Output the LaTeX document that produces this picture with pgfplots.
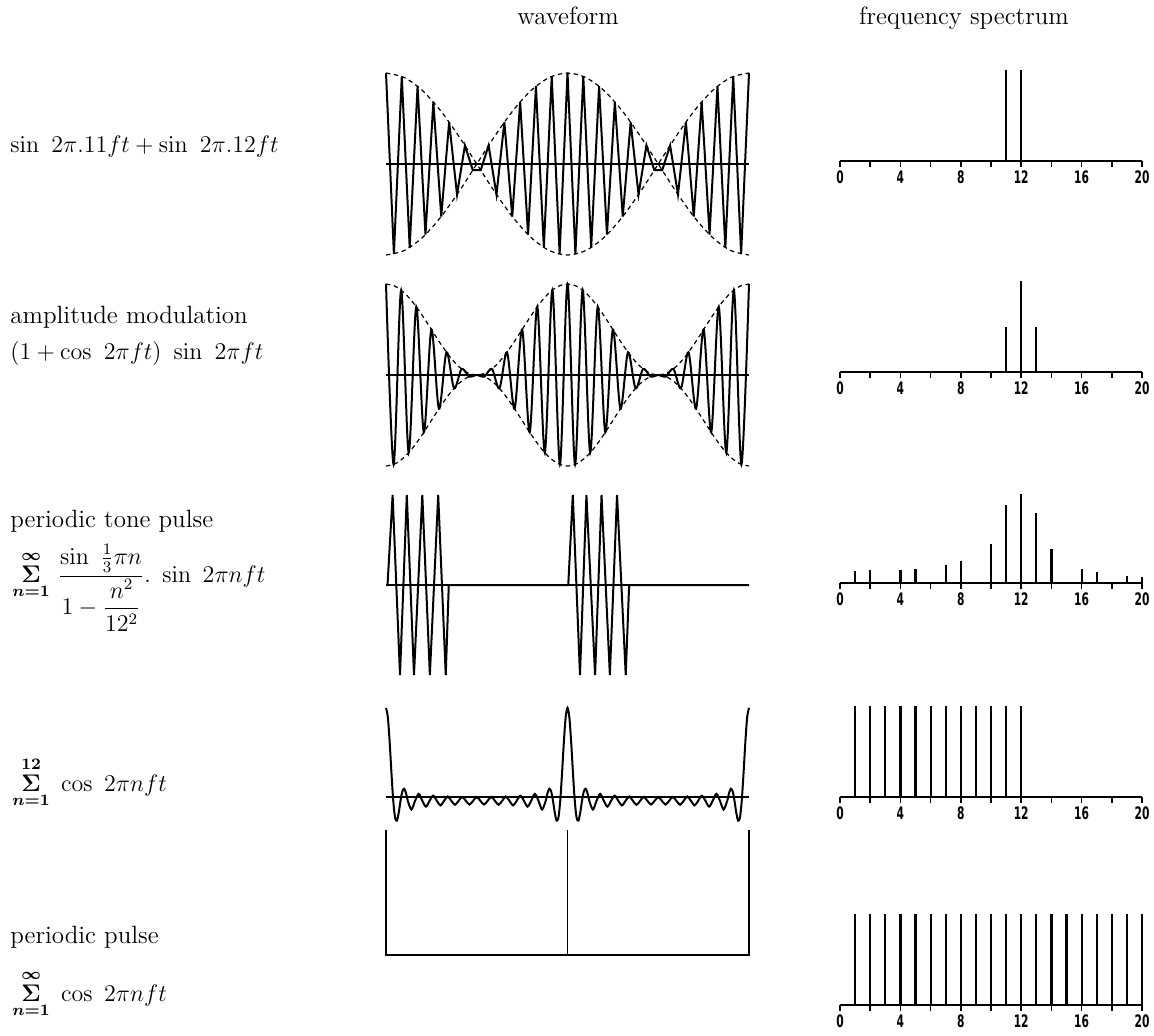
\documentclass[border=0pt]{standalone}
\usepackage{amsmath}
\usepackage[no-math]{fontspec}
\usepackage{pgfplots}
\pgfplotsset{compat=1.18}
\newfontfamily\tickfont[FakeStretch=0.62]{DejaVu Sans}
\pgfplotsset{
 wave/.style={scale only axis, width=181.5pt, hide axis, clip=false, anchor=south west},
 wl/.style={black, line width=1pt, no marks},
 env/.style={black, line width=0.6pt, no marks, smooth, dash pattern=on 2.2pt off 1.8pt},
 zl/.style={black, line width=1.3pt, no marks, sharp plot},
 spec/.style={scale only axis, width=151pt, height=45.5pt, xmin=0, xmax=20, ymin=0, ymax=1,
   axis x line*=bottom, axis y line=none, xtick={0,4,...,20}, minor xtick={2,6,...,18},
   tick align=outside, major tick length=2.8pt, minor tick length=2.8pt,
   every tick/.style={black, line width=0.8pt}, axis line style={line width=1pt},
   /pgf/number format/assume math mode=true,
   xticklabel style={font=\tickfont\bfseries\fontsize{8.6}{9}\selectfont, inner sep=1pt, yshift=-0.9pt},
   clip=false, anchor=south west},
 sl/.style={black, line width=1.1pt, ycomb, no marks},
}
\begin{document}
\begin{tikzpicture}[font=\fontsize{12.5}{15}\selectfont]
\useasboundingbox (0,0) rectangle (577pt,-517.5pt);
% titles
\node[anchor=base, inner sep=0] at (284pt,-12pt) {waveform};
\node[anchor=base, inner sep=0] at (482pt,-12pt) {frequency spectrum};
% row labels
\node[anchor=base west, inner sep=0] at (5pt,-76pt) {$\sin\ 2\pi.11ft+\sin\ 2\pi.12ft$};
\node[anchor=base west, inner sep=0] at (5pt,-161.5pt) {amplitude modulation};
\node[anchor=base west, inner sep=0] at (5pt,-179.5pt) {$(1+\cos\ 2\pi ft)\ \sin\ 2\pi ft$};
\node[anchor=base west, inner sep=0] at (5pt,-263.5pt) {periodic tone pulse};
\node[anchor=base west, inner sep=0, font=\fontsize{11.5}{14}\selectfont] at (6pt,-291pt) {$\mathop{\boldsymbol{\Sigma}}\limits_{\boldsymbol{n=1}}^{\boldsymbol{\infty}}\,\dfrac{\sin\ \frac{1}{3}\pi n}{1-\dfrac{n^2}{12^2}}.\ \sin\ 2\pi n ft$};
\node[anchor=base west, inner sep=0, font=\fontsize{11.5}{14}\selectfont] at (6pt,-395.5pt) {$\mathop{\boldsymbol{\Sigma}}\limits_{\boldsymbol{n=1}}^{\boldsymbol{12}}\ \cos\ 2\pi n ft$};
\node[anchor=base west, inner sep=0] at (5pt,-471.5pt) {periodic pulse};
\node[anchor=base west, inner sep=0, font=\fontsize{11.5}{14}\selectfont] at (6pt,-500.5pt) {$\mathop{\boldsymbol{\Sigma}}\limits_{\boldsymbol{n=1}}^{\boldsymbol{\infty}}\ \cos\ 2\pi n ft$};

% ---------- row 1 waveform ----------
\begin{axis}[wave, at={(193pt,-127.5pt)}, height=91pt, xmin=0, xmax=46, ymin=-1, ymax=1]
\addplot[zl] coordinates {(0,0)(46,0)};
\addplot[env] coordinates {(0,1)(2.3,0.9511)(4.6,0.8090)(6.9,0.5878)(9.2,0.3090)(11.5,0)(13.8,-0.3090)(16.1,-0.5878)(18.4,-0.8090)(20.7,-0.9511)(23,-1)(25.3,-0.9511)(27.6,-0.8090)(29.9,-0.5878)(32.2,-0.3090)(34.5,0)(36.8,0.3090)(39.1,0.5878)(41.4,0.8090)(43.7,0.9511)(46,1)};
\addplot[env] coordinates {(0,-1)(2.3,-0.9511)(4.6,-0.8090)(6.9,-0.5878)(9.2,-0.3090)(11.5,0)(13.8,0.3090)(16.1,0.5878)(18.4,0.8090)(20.7,0.9511)(23,1)(25.3,0.9511)(27.6,0.8090)(29.9,0.5878)(32.2,0.3090)(34.5,0)(36.8,-0.3090)(39.1,-0.5878)(41.4,-0.8090)(43.7,-0.9511)(46,-1)};
\addplot[wl, sharp plot] table {
0 1
1 -0.9907
2 0.9629
3 -0.9172
4 0.8544
5 -0.7757
6 0.6826
7 -0.5767
8 0.4601
9 -0.3349
10 0.2035
11 -0.0682
12 -0.0682
13 0.2035
14 -0.3349
15 0.4601
16 -0.5767
17 0.6826
18 -0.7757
19 0.8544
20 -0.9172
21 0.9629
22 -0.9907
23 1
24 -0.9907
25 0.9629
26 -0.9172
27 0.8544
28 -0.7757
29 0.6826
30 -0.5767
31 0.4601
32 -0.3349
33 0.2035
34 -0.0682
35 -0.0682
36 0.2035
37 -0.3349
38 0.4601
39 -0.5767
40 0.6826
41 -0.7757
42 0.8544
43 -0.9172
44 0.9629
45 -0.9907
46 1
};
\end{axis}

% ---------- row 2 waveform ----------
\begin{axis}[wave, at={(193pt,-233pt)}, height=91pt, xmin=0, xmax=48, ymin=-1, ymax=1]
\addplot[zl] coordinates {(0,0)(48,0)};
\addplot[env] coordinates {(0,1)(1.2,0.9755)(2.4,0.9045)(3.6,0.7939)(4.8,0.6545)(6,0.5)(7.2,0.3455)(8.4,0.2061)(9.6,0.0955)(10.8,0.0245)(12,0)(13.2,0.0245)(14.4,0.0955)(15.6,0.2061)(16.8,0.3455)(18,0.5)(19.2,0.6545)(20.4,0.7939)(21.6,0.9045)(22.8,0.9755)(24,1)(25.2,0.9755)(26.4,0.9045)(27.6,0.7939)(28.8,0.6545)(30,0.5)(31.2,0.3455)(32.4,0.2061)(33.6,0.0955)(34.8,0.0245)(36,0)(37.2,0.0245)(38.4,0.0955)(39.6,0.2061)(40.8,0.3455)(42,0.5)(43.2,0.6545)(44.4,0.7939)(45.6,0.9045)(46.8,0.9755)(48,1)};
\addplot[env] coordinates {(0,-1)(1.2,-0.9755)(2.4,-0.9045)(3.6,-0.7939)(4.8,-0.6545)(6,-0.5)(7.2,-0.3455)(8.4,-0.2061)(9.6,-0.0955)(10.8,-0.0245)(12,0)(13.2,-0.0245)(14.4,-0.0955)(15.6,-0.2061)(16.8,-0.3455)(18,-0.5)(19.2,-0.6545)(20.4,-0.7939)(21.6,-0.9045)(22.8,-0.9755)(24,-1)(25.2,-0.9755)(26.4,-0.9045)(27.6,-0.7939)(28.8,-0.6545)(30,-0.5)(31.2,-0.3455)(32.4,-0.2061)(33.6,-0.0955)(34.8,-0.0245)(36,0)(37.2,-0.0245)(38.4,-0.0955)(39.6,-0.2061)(40.8,-0.3455)(42,-0.5)(43.2,-0.6545)(44.4,-0.7939)(45.6,-0.9045)(46.8,-0.9755)(48,-1)};
\addplot[wl, smooth] table {
0 1
1 -0.9830
2 0.9330
3 -0.8536
4 0.75
5 -0.6294
6 0.5
7 -0.3706
8 0.25
9 -0.1464
10 0.0670
11 -0.0170
12 0
13 -0.0170
14 0.0670
15 -0.1464
16 0.25
17 -0.3706
18 0.5
19 -0.6294
20 0.75
21 -0.8536
22 0.9330
23 -0.9830
24 1
25 -0.9830
26 0.9330
27 -0.8536
28 0.75
29 -0.6294
30 0.5
31 -0.3706
32 0.25
33 -0.1464
34 0.0670
35 -0.0170
36 0
37 -0.0170
38 0.0670
39 -0.1464
40 0.25
41 -0.3706
42 0.5
43 -0.6294
44 0.75
45 -0.8536
46 0.9330
47 -0.9830
48 1
};
\end{axis}

% ---------- row 3 waveform ----------
\begin{axis}[wave, at={(193pt,-337.5pt)}, height=90pt, xmin=0, xmax=96, ymin=-1, ymax=1]
\addplot[zl] coordinates {(0,0)(96,0)};
\addplot[wl, sharp plot] table {
0 0
0.4 0
1.75 1
3.7 -1
5.5 1
7.4 -1
9.6 1
11.6 -1
13.8 1
15.8 -1
16.6 0
48.2 0
49.4 1
51.3 -1
53.0 1
55.3 -1
57.0 1
59.2 -1
61.1 1
63.4 -1
64.3 0
96 0
};
\end{axis}

% ---------- row 4 waveform ----------
\begin{axis}[wave, at={(193pt,-413.4pt)}, height=59.5pt, xmin=0, xmax=2, ymin=-4, ymax=12]
\addplot[zl] coordinates {(0,0)(2,0)};
\addplot[wl, smooth] table {
0 12
0.01 10.756
0.02 7.463
0.03 3.257
0.04 -0.5
0.05 -2.760
0.06 -3.168
0.07 -2.121
0.08 -0.5
0.09 0.767
0.10 1.118
0.11 0.544
0.12 -0.5
0.14 -1.674
0.16 -0.5
0.18 0.433
0.20 -0.5
0.22 -1.284
0.24 -0.5
0.26 0.186
0.28 -0.5
0.30 -1.118
0.32 -0.5
0.34 0.071
0.36 -0.5
0.38 -1.038
0.40 -0.5
0.42 0.016
0.44 -0.5
0.46 -1.004
0.48 -0.5
0.50 0
0.52 -0.5
0.54 -1.004
0.56 -0.5
0.58 0.016
0.60 -0.5
0.62 -1.038
0.64 -0.5
0.66 0.071
0.68 -0.5
0.70 -1.118
0.72 -0.5
0.74 0.186
0.76 -0.5
0.78 -1.284
0.80 -0.5
0.82 0.433
0.84 -0.5
0.86 -1.674
0.88 -0.5
0.89 0.544
0.90 1.118
0.91 0.767
0.92 -0.5
0.93 -2.121
0.94 -3.168
0.95 -2.760
0.96 -0.5
0.97 3.257
0.98 7.463
0.99 10.756
1.00 12
1.01 10.756
1.02 7.463
1.03 3.257
1.04 -0.5
1.05 -2.760
1.06 -3.168
1.07 -2.121
1.08 -0.5
1.09 0.767
1.10 1.118
1.11 0.544
1.12 -0.5
1.14 -1.674
1.16 -0.5
1.18 0.433
1.20 -0.5
1.22 -1.284
1.24 -0.5
1.26 0.186
1.28 -0.5
1.30 -1.118
1.32 -0.5
1.34 0.071
1.36 -0.5
1.38 -1.038
1.40 -0.5
1.42 0.016
1.44 -0.5
1.46 -1.004
1.48 -0.5
1.50 0
1.52 -0.5
1.54 -1.004
1.56 -0.5
1.58 0.016
1.60 -0.5
1.62 -1.038
1.64 -0.5
1.66 0.071
1.68 -0.5
1.70 -1.118
1.72 -0.5
1.74 0.186
1.76 -0.5
1.78 -1.284
1.80 -0.5
1.82 0.433
1.84 -0.5
1.86 -1.674
1.88 -0.5
1.89 0.544
1.90 1.118
1.91 0.767
1.92 -0.5
1.93 -2.121
1.94 -3.168
1.95 -2.760
1.96 -0.5
1.97 3.257
1.98 7.463
1.99 10.756
2.00 12
};
\end{axis}

% ---------- row 5 waveform ----------
\begin{axis}[wave, at={(193pt,-477.5pt)}, height=62.5pt, xmin=0, xmax=2, ymin=0, ymax=1]
\addplot[black, line width=0.9pt, sharp plot, no marks] coordinates {(0,1)(0,0)(2,0)(2,1)};
\addplot[black, line width=0.9pt, sharp plot, no marks] coordinates {(1,0)(1,1)};
\end{axis}

% ---------- spectra ----------
\begin{axis}[spec, at={(420pt,-80.5pt)}]
\addplot[sl] coordinates {(11,1)(12,1)};
\end{axis}
\begin{axis}[spec, at={(420pt,-186pt)}]
\addplot[sl] coordinates {(11,0.5)(12,1)(13,0.5)};
\end{axis}
\begin{axis}[spec, at={(420pt,-291.5pt)}]
\addplot[sl] coordinates {(1,0.13)(2,0.145)(4,0.145)(5,0.155)(7,0.20)(8,0.245)(10,0.43)(11,0.86)(12,0.98)(13,0.77)(14,0.37)(16,0.155)(17,0.12)(19,0.08)(20,0.065)};
\end{axis}
\begin{axis}[spec, at={(420pt,-398.5pt)}]
\addplot[sl] coordinates {(1,1)(2,1)(3,1)(4,1)(5,1)(6,1)(7,1)(8,1)(9,1)(10,1)(11,1)(12,1)};
\end{axis}
\begin{axis}[spec, at={(420pt,-502.5pt)}]
\addplot[sl] coordinates {(1,1)(2,1)(3,1)(4,1)(5,1)(6,1)(7,1)(8,1)(9,1)(10,1)(11,1)(12,1)(13,1)(14,1)(15,1)(16,1)(17,1)(18,1)(19,1)(20,1)};
\end{axis}
\end{tikzpicture}
\end{document}
